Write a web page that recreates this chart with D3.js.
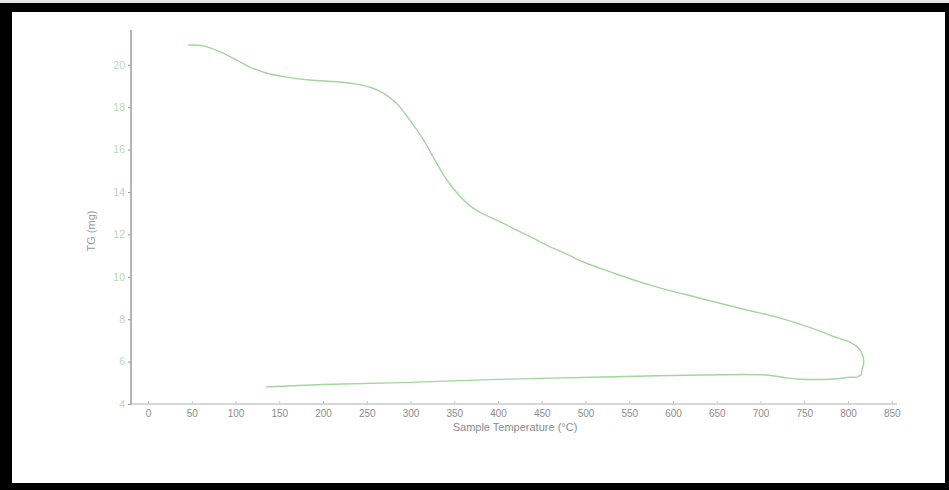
<!DOCTYPE html>
<html>
<head>
<meta charset="utf-8">
<script src="https://cdn.jsdelivr.net/npm/d3@7"></script>
<style>
  html, body { margin: 0; padding: 0; background: #fff; }
  svg { display: block; }
  text { font-family: "Liberation Sans", Arial, sans-serif; }
</style>
</head>
<body>
<svg id="chart" width="949" height="490"></svg>
<script>
// TGA run: heating segment (sample temperature °C, mass mg)
const heatTemp = [46, 63, 82, 101, 117, 136, 155, 185, 216, 238, 254, 269, 284, 299, 315, 330, 341,
                  357, 372, 391, 402, 421, 440, 459, 478, 497, 517, 536, 555, 574, 593, 612, 631,
                  680, 722, 745, 768, 785, 802, 812, 817, 818, 816, 815];
const heatMass = [20.93, 20.89, 20.62, 20.23, 19.88, 19.6, 19.44, 19.28, 19.2, 19.09, 18.94, 18.66, 18.18, 17.4, 16.45, 15.35, 14.6,
                  13.78, 13.23, 12.81, 12.6, 12.21, 11.82, 11.42, 11.08, 10.71, 10.4, 10.12, 9.85, 9.61, 9.38, 9.19, 8.99,
                  8.48, 8.06, 7.77, 7.44, 7.16, 6.92, 6.64, 6.26, 5.93, 5.6, 5.37];
// cooling segment
const coolTemp = [815, 810, 802, 783, 745, 730, 707, 631, 520, 400, 290, 200, 135];
const coolMass = [5.37, 5.27, 5.26, 5.18, 5.17, 5.23, 5.37, 5.37, 5.27, 5.16, 5.01, 4.92, 4.8];

const xTicks = [0, 50, 100, 150, 200, 250, 300, 350, 400, 450, 500, 550, 600, 650, 700, 750, 800, 850];
const yTicks = [4, 6, 8, 10, 12, 14, 16, 18, 20];

const svg = d3.select("#chart");

// page frame
svg.append("rect").attr("x", 0).attr("y", 0).attr("width", 949).attr("height", 490).attr("fill", "#000");
svg.append("rect").attr("x", 0).attr("y", 0).attr("width", 949).attr("height", 3).attr("fill", "#e6e6e6");
svg.append("rect").attr("x", 12).attr("y", 12).attr("width", 933).attr("height", 471).attr("fill", "#fff");

const x = d3.scaleLinear().domain([-19.4, 856]).range([131, 897]);
const y = d3.scaleLinear().domain([4, 21.64]).range([404, 30]);

// x axis
const xAxis = svg.append("g").attr("transform", "translate(0,404)")
  .call(d3.axisBottom(x).tickValues(xTicks).tickSize(-3).tickPadding(6));
xAxis.select(".domain").attr("stroke", "#b0b0b0").attr("d", "M131,0H897");
xAxis.selectAll(".tick line").attr("stroke", "#c8c8c8");
xAxis.selectAll(".tick text").attr("fill", "#8c8c8c").attr("font-size", 10);

// y axis
const yAxis = svg.append("g").attr("transform", "translate(131,0)")
  .call(d3.axisLeft(y).tickValues(yTicks).tickSize(3).tickPadding(3));
yAxis.select(".domain").attr("stroke", "#6a6a6a").attr("d", "M0,30V404");
yAxis.selectAll(".tick line").attr("stroke", "#9a9a9a");
yAxis.selectAll(".tick text").attr("fill", "#b7dcb0").attr("font-size", 10.5);

// axis titles
svg.append("text").attr("x", 515).attr("y", 431).attr("text-anchor", "middle")
  .attr("font-size", 11).attr("fill", "#8c8c8c").text("Sample Temperature (°C)");
svg.append("text").attr("transform", "translate(95,231) rotate(-90)").attr("text-anchor", "middle")
  .attr("font-size", 11).attr("fill", "#9a9a9a").text("TG (mg)");

// curves
const line = d3.line().x(d => x(d[0])).y(d => y(d[1])).curve(d3.curveCatmullRom.alpha(0.5));
const heat = heatTemp.map((t, i) => [t, heatMass[i]]);
const cool = coolTemp.map((t, i) => [t, coolMass[i]]);

svg.append("path").datum(heat).attr("d", line)
  .attr("fill", "none").attr("stroke", "#a3d69d").attr("stroke-width", 1.4);
svg.append("path").datum(cool).attr("d", line)
  .attr("fill", "none").attr("stroke", "#a3d69d").attr("stroke-width", 1.4);
</script>
</body>
</html>
